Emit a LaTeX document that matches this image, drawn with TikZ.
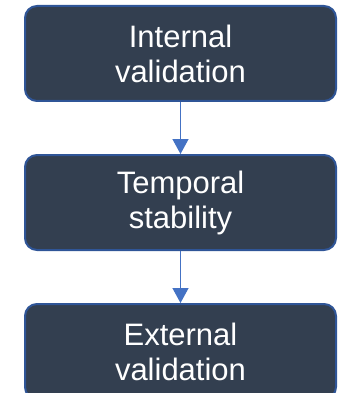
\documentclass[tikz,border=0pt]{standalone}
\usepackage{fontspec}
\setmainfont{Liberation Sans}
\usetikzlibrary{arrows.meta}
\definecolor{boxfill}{HTML}{333F50}
\definecolor{boxline}{HTML}{2F5597}
\definecolor{arrowc}{HTML}{4472C4}
\begin{document}
\begin{tikzpicture}[x=1pt,y=-1pt,
  stagebox/.style={draw=boxline, line width=2pt, fill=boxfill, rounded corners=12pt,
    minimum width=311pt, minimum height=95pt, inner sep=0pt, align=center,
    text=white, font=\fontsize{31}{35}\selectfont},
  flowarrow/.style={draw=arrowc, line width=1.3pt, -{Triangle[length=15pt,width=16pt]}}]
\useasboundingbox (0,0) rectangle (347,393);
\clip (0,0) rectangle (347,393);
\node[stagebox] (a) at (180.5,53.5) {Internal\\validation};
\node[stagebox] (b) at (180.5,202.5) {Temporal\\stability};
\node[stagebox] (c) at (180.5,351.5) {External\\validation};
\draw[flowarrow] (a) -- (b);
\draw[flowarrow] (b) -- (c);
\end{tikzpicture}
\end{document}
